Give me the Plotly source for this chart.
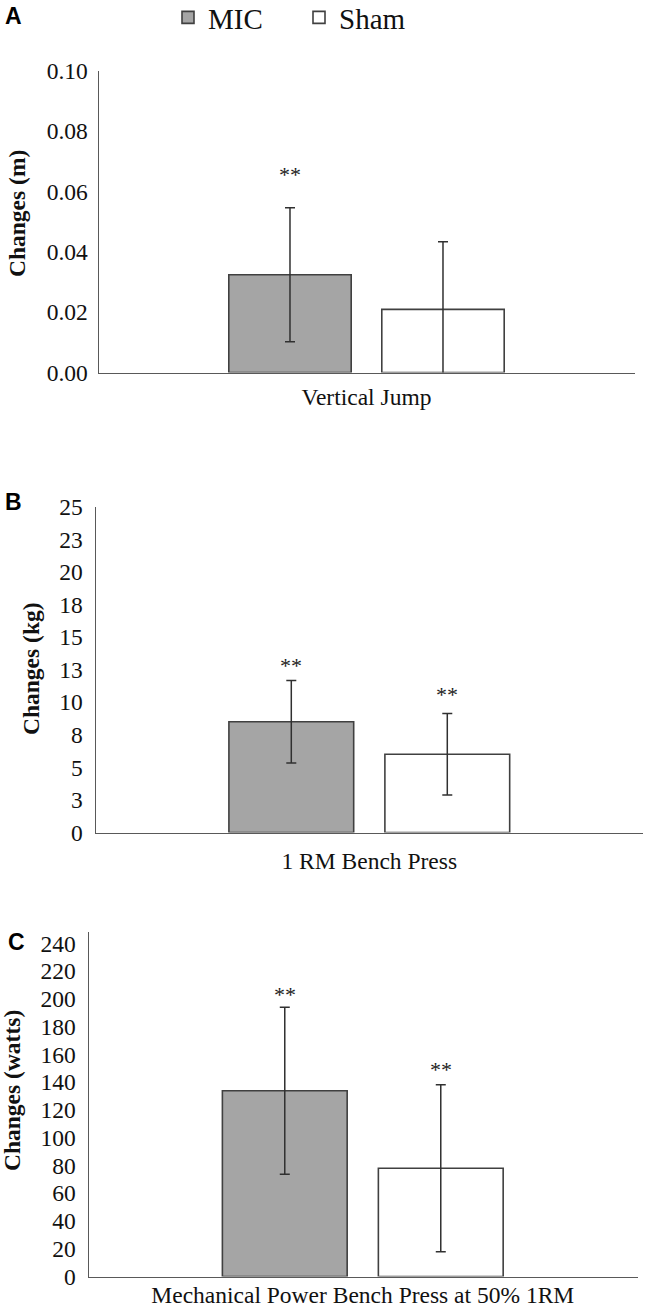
import plotly.graph_objects as go

W, H = 646, 1311

# ---------------- data ----------------
groups = ["MIC", "Sham"]
panel_letters = ["A", "B", "C"]
categories = ["Vertical Jump", "1 RM Bench Press", "Mechanical Power Bench Press at 50% 1RM"]
y_titles = ["Changes (m)", "Changes (kg)", "Changes (watts)"]

vj_mean = [0.0324, 0.0209]
vj_err = [0.0222, 0.0224]
vj_sig = ["**", ""]

rm_mean = [8.5, 6.0]
rm_err = [3.16, 3.13]
rm_sig = ["**", "**"]

mp_mean = [133.8, 78.0]
mp_err = [60.2, 60.2]
mp_sig = ["**", "**"]

vj_ticks = [0.00, 0.02, 0.04, 0.06, 0.08, 0.10]
vj_ticktext = ["0.00", "0.02", "0.04", "0.06", "0.08", "0.10"]
rm_ticks = [0, 2.5, 5, 7.5, 10, 12.5, 15, 17.5, 20, 22.5, 25]
rm_ticktext = ["0", "3", "5", "8", "10", "13", "15", "18", "20", "23", "25"]
mp_ticks = [0, 20, 40, 60, 80, 100, 120, 140, 160, 180, 200, 220, 240]
mp_ticktext = [str(v) for v in mp_ticks]

# ---------------- style / layout ----------------
fills = ["#a5a5a5", "#ffffff"]
outline = "#404040"
axis_col = "#595959"
serif = "Liberation Serif, Times New Roman, serif"
sans = "Liberation Sans, Arial, sans-serif"
BARGAP = 0.4
star_xpos = [-(1 - BARGAP) / 4, (1 - BARGAP) / 4]


def px_x(p):
    return p / W


def px_y(p):
    return 1 - p / H


panels = [
    dict(mean=vj_mean, err=vj_err, sig=vj_sig, ticks=vj_ticks, ticktext=vj_ticktext,
         yrange=[0, 0.10], xdom=[99, 635], ydom=[372.5, 70.7], xrange=[-0.5245, 0.5265],
         star_off=[37, 0], xstand=3, title_xy=(17.5, 213.5), letter_xy=(13, 16), ystand=5),
    dict(mean=rm_mean, err=rm_err, sig=rm_sig, ticks=rm_ticks, ticktext=rm_ticktext,
         yrange=[0, 25], xdom=[96, 643], ydom=[832.5, 506.7], xrange=[-0.5256, 0.5264],
         star_off=[19, 23], xstand=7, title_xy=(31, 669), letter_xy=(13, 502), ystand=7),
    dict(mean=mp_mean, err=mp_err, sig=mp_sig, ticks=mp_ticks, ticktext=mp_ticktext,
         yrange=[0, 248.4], xdom=[89, 638], ydom=[1276.5, 931.7], xrange=[-0.5265, 0.5293],
         star_off=[17, 19], xstand=-3, title_xy=(12, 1091), letter_xy=(16, 942), ystand=7),
]

fig = go.Figure()
annotations = []

for i, p in enumerate(panels):
    xa = "x" if i == 0 else f"x{i+1}"
    ya = "y" if i == 0 else f"y{i+1}"
    for g in range(2):
        fig.add_trace(go.Bar(
            x=[categories[i]], y=[p["mean"][g]], name=groups[g],
            offsetgroup=str(g), legendgroup=groups[g], showlegend=(i == 0),
            marker=dict(color=fills[g], line=dict(color=outline, width=1.6)),
            error_y=dict(type="data", array=[p["err"][g]], visible=True,
                         color="#303030", thickness=1.5, width=5),
            xaxis=xa, yaxis=ya, hoverinfo="skip",
        ))
        if p["sig"][g]:
            annotations.append(dict(
                x=star_xpos[g], y=p["mean"][g] + p["err"][g], xref=xa, yref=ya,
                text=p["sig"][g], showarrow=False,
                yanchor="middle", yshift=p["star_off"][g] - 4,
                font=dict(family=serif, size=22, color="#222222"),
            ))
    axis_suffix = "" if i == 0 else str(i + 1)
    fig.update_layout(**{
        f"xaxis{axis_suffix}": dict(
            domain=[px_x(p["xdom"][0]), px_x(p["xdom"][1])], anchor=ya,
            type="category", range=p["xrange"], showline=True, linecolor=axis_col,
            linewidth=1.5, ticks="", showgrid=False, zeroline=False, automargin=False,
            tickfont=dict(family=serif, size=23.5, color="#111111"),
            ticklabelstandoff=p["xstand"],
        ),
        f"yaxis{axis_suffix}": dict(
            domain=[px_y(p["ydom"][0]), px_y(p["ydom"][1])], anchor=xa,
            range=p["yrange"], showline=True, linecolor=axis_col, linewidth=1.5,
            ticks="", showgrid=False, zeroline=False, automargin=False,
            tickvals=p["ticks"], ticktext=p["ticktext"],
            tickfont=dict(family=serif, size=23.5, color="#111111"),
            ticklabelstandoff=p["ystand"],
        ),
    })
    annotations.append(dict(
        x=px_x(p["title_xy"][0]), y=px_y(p["title_xy"][1]), xref="paper", yref="paper",
        text=f"<b>{y_titles[i]}</b>", textangle=-90, showarrow=False,
        xanchor="center", yanchor="middle",
        font=dict(family=serif, size=23.5, color="#111111"),
    ))
    annotations.append(dict(
        x=px_x(p["letter_xy"][0]), y=px_y(p["letter_xy"][1]), xref="paper", yref="paper",
        text=f"<b>{panel_letters[i]}</b>", showarrow=False,
        xanchor="center", yanchor="middle",
        font=dict(family=sans, size=23, color="#000000"),
    ))

fig.update_layout(
    width=W, height=H,
    margin=dict(l=0, r=0, t=0, b=0, autoexpand=False),
    paper_bgcolor="white", plot_bgcolor="white",
    barmode="group", bargap=BARGAP, bargroupgap=0.2,
    annotations=annotations,
    showlegend=True,
    legend=dict(
        orientation="h", x=px_x(168), y=1 + 8 / H, xanchor="left", yanchor="top",
        font=dict(family=serif, size=29, color="#111111"),
        bgcolor="rgba(0,0,0,0)", entrywidthmode="pixels", entrywidth=86,
        itemclick=False, itemdoubleclick=False,
    ),
)

fig.write_html(
    "out.html",
    config={"displayModeBar": False, "staticPlot": True},
    post_script="document.body.style.margin='0';document.body.style.padding='0';",
)
